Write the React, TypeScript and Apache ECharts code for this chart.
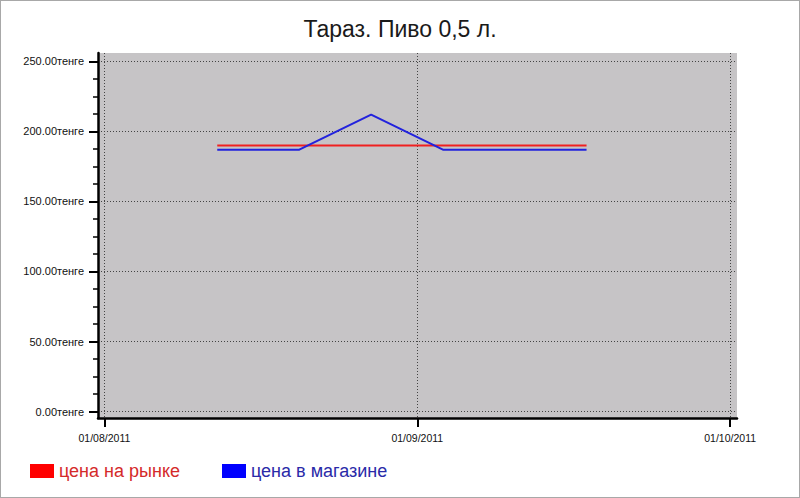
import { useEffect, useRef } from 'react';
import * as echarts from 'echarts';

const title = 'Тараз. Пиво 0,5 л.';
const dates = ['2011-08-12', '2011-08-20', '2011-08-27', '2011-09-03', '2011-09-10', '2011-09-17'];
const marketPrices = [190, 190, 190, 190, 190, 190];
const shopPrices = [187, 187, 212, 187, 187, 187];
const yTicks = [0, 50, 100, 150, 200, 250];
const yMinorTicks = [12.5, 25, 37.5, 62.5, 75, 87.5, 112.5, 125, 137.5, 162.5, 175, 187.5, 212.5, 225, 237.5];
// the source chart spaces its date ticks evenly over the range
const xTicks = ['2011-08-01T00', '2011-08-31T12', '2011-10-01T00'];
const xTickLabels = ['01/08/2011', '01/09/2011', '01/10/2011'];
const seriesNames = ['цена на рынке', 'цена в магазине'];

const toTime = (s: string) => {
  const [datePart, hour] = s.split('T');
  const [y, m, d] = datePart.split('-').map(Number);
  return new Date(y, m - 1, d, hour ? Number(hour) : 0).getTime();
};

function App() {
  const chartRef = useRef<HTMLDivElement>(null);

  useEffect(() => {
    if (!chartRef.current) return;
    const chart = echarts.init(chartRef.current, null, { renderer: 'svg' });
    const font = '"Liberation Sans", Arial, sans-serif';
    const xTickValues = xTicks.map(toTime);

    chart.setOption({
      animation: false,
      backgroundColor: '#fff',
      title: {
        text: title,
        left: 'center',
        top: 12,
        textStyle: { fontSize: 23, fontWeight: 'normal', color: '#1a1a1a', fontFamily: font },
      },
      legend: {
        left: 25,
        top: 457,
        icon: 'rect',
        itemWidth: 24,
        itemHeight: 14,
        itemGap: 42,
        textStyle: { fontSize: 18, fontFamily: font },
        data: [
          { name: seriesNames[0], itemStyle: { color: '#ff0000' }, textStyle: { color: '#d42a2a' } },
          { name: seriesNames[1], itemStyle: { color: '#0000ff' }, textStyle: { color: '#2a2aa8' } },
        ],
      },
      graphic: [
        {
          type: 'rect',
          z: -10,
          shape: { x: 98, y: 53, width: 639, height: 365 },
          style: { fill: '#c6c4c6' },
        },
      ],
      grid: { left: 98, right: 63, top: 53, bottom: 80 },
      xAxis: {
        type: 'value',
        min: new Date(2011, 6, 31, 9).getTime(),
        max: new Date(2011, 9, 1, 16).getTime(),
        axisLine: { onZero: false, lineStyle: { color: '#000', width: 2.5 } },
        axisTick: { show: true, customValues: xTickValues, length: 9, lineStyle: { color: '#000', width: 2 } },
        axisLabel: {
          customValues: xTickValues,
          margin: 14,
          fontSize: 10.5,
          color: '#111',
          fontFamily: font,
          formatter: (v: number) => xTickLabels[xTickValues.indexOf(v)] ?? '',
        },
        splitLine: { show: true, lineStyle: { color: '#444', type: [1, 2], width: 1 } },
      },
      yAxis: [
        {
          type: 'value',
          position: 'left',
          min: -4.6,
          max: 256,
          axisLine: { show: true, onZero: false, lineStyle: { color: '#000', width: 2.5 } },
          axisTick: { show: true, customValues: yTicks, length: 9, lineStyle: { color: '#000', width: 2 } },
          axisLabel: {
            customValues: yTicks,
            margin: 14,
            fontSize: 11,
            color: '#111',
            fontFamily: font,
            formatter: (v: number) => v.toFixed(2) + 'тенге',
          },
          splitLine: { show: true, lineStyle: { color: '#444', type: [1, 2], width: 1 } },
        },
        {
          type: 'value',
          position: 'left',
          min: -4.6,
          max: 256,
          axisLine: { show: false, onZero: false },
          axisTick: { show: true, customValues: yMinorTicks, length: 5, lineStyle: { color: '#000', width: 1.5 } },
          axisLabel: { show: false },
          splitLine: { show: false },
        },
      ],
      series: [
        {
          name: seriesNames[0],
          type: 'line',
          symbol: 'none',
          data: dates.map((d, i) => [toTime(d), marketPrices[i]]),
          lineStyle: { color: '#f02020', width: 2 },
          itemStyle: { color: '#ff0000' },
        },
        {
          name: seriesNames[1],
          type: 'line',
          symbol: 'none',
          data: dates.map((d, i) => [toTime(d), shopPrices[i]]),
          lineStyle: { color: '#2222dd', width: 2 },
          itemStyle: { color: '#0000ff' },
        },
      ],
    });

    return () => chart.dispose();
  }, []);

  return (
    <div style={{ position: 'fixed', left: 0, top: 0, width: 800, height: 498, background: '#fff' }}>
      <div ref={chartRef} style={{ width: 800, height: 498 }} />
      <div
        style={{
          position: 'absolute',
          left: 0,
          top: 0,
          width: 800,
          height: 498,
          boxSizing: 'border-box',
          border: '1px solid #a8a8a8',
          pointerEvents: 'none',
        }}
      />
    </div>
  );
}

export default App;
